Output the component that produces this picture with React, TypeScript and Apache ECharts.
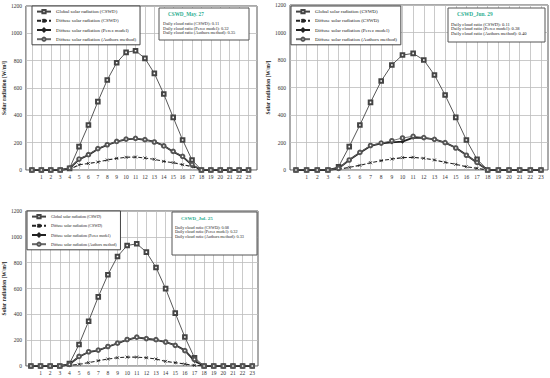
import React, { useEffect, useRef } from "react";
import * as echarts from "echarts";

const hours = Array.from({ length: 24 }, (_, i) => i);
const xTickLabels = [1, 2, 3, 4, 5, 6, 7, 8, 9, 10, 11, 12, 13, 14, 15, 16, 17, 18, 19, 20, 21, 22, 23];

const seriesNames = [
  "Global solar radiation (CSWD)",
  "Diffuse solar radiation (CSWD)",
  "Diffuse solar radiation (Perez model)",
  "Diffuse solar radiation (Authors method)",
];

// Panel 1: May 27
const may27Global = [0, 0, 0, 0, 12, 171, 329, 500, 659, 785, 861, 873, 817, 707, 556, 385, 220, 73, 0, 0, 0, 0, 0, 0];
const may27Cswd = [0, 0, 0, 0, 5, 38, 48, 58, 73, 85, 93, 95, 88, 78, 63, 54, 39, 24, 0, 0, 0, 0, 0, 0];
const may27Perez = [0, 0, 0, 0, 12, 78, 110, 154, 183, 207, 224, 229, 220, 207, 178, 134, 98, 37, 0, 0, 0, 0, 0, 0];
const may27Authors = [0, 0, 0, 0, 14, 80, 112, 156, 185, 209, 226, 231, 222, 205, 176, 136, 100, 40, 0, 0, 0, 0, 0, 0];

// Panel 2: Jun 29
const jun29Global = [0, 0, 0, 0, 24, 170, 327, 492, 647, 764, 836, 848, 800, 691, 545, 383, 218, 78, 0, 0, 0, 0, 0, 0];
const jun29Cswd = [0, 0, 0, 0, 5, 19, 34, 53, 68, 80, 90, 92, 85, 73, 56, 41, 24, 12, 0, 0, 0, 0, 0, 0];
const jun29Perez = [0, 0, 0, 0, 12, 73, 126, 175, 194, 201, 206, 235, 233, 223, 199, 162, 109, 53, 0, 0, 0, 0, 0, 0];
const jun29Authors = [0, 0, 0, 0, 12, 73, 128, 178, 196, 213, 233, 245, 236, 223, 199, 160, 107, 55, 0, 0, 0, 0, 0, 0];

// Panel 3: Jul 25
const jul25Global = [0, 0, 0, 0, 18, 167, 347, 535, 707, 848, 933, 946, 882, 763, 599, 409, 224, 64, 0, 0, 0, 0, 0, 0];
const jul25Cswd = [0, 0, 0, 0, 4, 13, 26, 41, 54, 64, 69, 69, 64, 54, 36, 26, 15, 5, 0, 0, 0, 0, 0, 0];
const jul25Perez = [0, 0, 0, 0, 13, 72, 108, 121, 149, 175, 203, 221, 211, 203, 185, 162, 121, 39, 0, 0, 0, 0, 0, 0];
const jul25Authors = [0, 0, 0, 0, 13, 74, 110, 123, 151, 177, 205, 223, 212, 204, 186, 160, 119, 51, 0, 0, 0, 0, 0, 0];

const panelTitles = ["CSWD_May. 27", "CSWD_Jun. 29", "CSWD_Jul. 25"];
const cloudCswd = ["0.11", "0.11", "0.08"];
const cloudPerez = ["0.32", "0.38", "0.32"];
const cloudAuthors = ["0.35", "0.40", "0.33"];

const FONT = "Liberation Serif";

const panels = [
  {
    data: [may27Global, may27Cswd, may27Perez, may27Authors],
    grid: { left: 25, top: 6, width: 232, height: 164 },
    xMin: -0.64, xMax: 23.9,
    legend: { left: 32, top: 6, fontSize: 4.9 },
    box: { x: 159, y: 8, w: 90, h: 32 },
    titleY: 14, lineY: 23.5, lineGap: 4.6, textX: 163, titleX: 168, fs: 4.4,
  },
  {
    data: [jun29Global, jun29Cswd, jun29Perez, jun29Authors],
    grid: { left: 290, top: 5, width: 258, height: 165 },
    xMin: -0.56, xMax: 23.66,
    legend: { left: 291, top: 6, fontSize: 5 },
    box: { x: 448, y: 8, w: 97, h: 34 },
    titleY: 14, lineY: 24, lineGap: 4.8, textX: 451, titleX: 457, fs: 4.6,
  },
  {
    data: [jul25Global, jul25Cswd, jul25Perez, jul25Authors],
    grid: { left: 25, top: 211, width: 233, height: 155 },
    xMin: -0.52, xMax: 23.6,
    legend: { left: 27, top: 211, fontSize: 4.0 },
    box: { x: 172, y: 212, w: 85, h: 43 },
    titleY: 218, lineY: 227, lineGap: 4.6, textX: 175, titleX: 181, fs: 4.2,
  },
];

const crossPath = "path://M0,0L10,10M10,0L0,10";

function seriesStyle(k: number) {
  if (k === 0)
    return {
      symbol: "emptyRect",
      symbolSize: 3.6,
      lineStyle: { color: "#444", width: 0.9 },
      itemStyle: { color: "#444", borderColor: "#444", borderWidth: 0.7 },
    };
  if (k === 1)
    return {
      symbol: crossPath,
      symbolSize: 3,
      lineStyle: { color: "#222", width: 1.1, type: [4, 2] },
      itemStyle: { color: "#222", borderColor: "#222", borderWidth: 0.8 },
    };
  if (k === 2)
    return {
      symbol: "diamond",
      symbolSize: 3.6,
      lineStyle: { color: "#222", width: 1.8 },
      itemStyle: { color: "#222", borderColor: "#222", borderWidth: 0.4 },
    };
  return {
    symbol: "emptyCircle",
    symbolSize: 3.6,
    lineStyle: { color: "#666", width: 0.9 },
    itemStyle: { color: "#555", borderColor: "#555", borderWidth: 0.7 },
  };
}

export default function App() {
  const ref = useRef<HTMLDivElement>(null);
  useEffect(() => {
    if (!ref.current) return;
    const chart = echarts.init(ref.current, undefined, { renderer: "svg" });
    const grids: any[] = [];
    const xAxes: any[] = [];
    const yAxes: any[] = [];
    const series: any[] = [];
    const legends: any[] = [];
    const graphics: any[] = [];
    panels.forEach((p, i) => {
      grids.push({ ...p.grid, show: true, borderColor: "#555", borderWidth: 1, backgroundColor: "#fff" });
      xAxes.push({
        type: "value",
        gridIndex: i,
        min: p.xMin,
        max: p.xMax,
        axisLine: { show: false },
        axisTick: { show: false, customValues: hours },
        axisLabel: {
          customValues: xTickLabels,
          formatter: (v: number) => String(v),
          fontFamily: FONT, fontSize: 5.5, color: "#333", margin: 4,
        },
        splitLine: { show: true, lineStyle: { color: "#bdbdbd", width: 0.8 } },
      });
      yAxes.push({
        type: "value",
        gridIndex: i,
        min: 0,
        max: 1200,
        interval: 200,
        name: "Solar radiation [W/m²]",
        nameLocation: "middle",
        nameRotate: 90,
        nameGap: 18,
        nameTextStyle: { fontFamily: FONT, fontSize: 5.5, fontWeight: "bold", color: "#222" },
        axisLine: { show: false },
        axisTick: { show: false },
        axisLabel: { formatter: (v: number) => String(v), fontFamily: FONT, fontSize: 5.5, color: "#333", margin: 4 },
        splitLine: { show: true, lineStyle: { color: "#bdbdbd", width: 0.8 } },
      });
      p.data.forEach((vals, k) => {
        series.push({
          type: "line",
          name: seriesNames[k],
          xAxisIndex: i,
          yAxisIndex: i,
          data: hours.map((h, j) => [h, vals[j]]),
          z: 2 + k,
          ...seriesStyle(k),
        });
      });
      legends.push({
        data: seriesNames,
        orient: "vertical",
        left: p.legend.left,
        top: p.legend.top,
        itemWidth: 14,
        itemHeight: 4,
        itemGap: 4,
        padding: [3, 4, 3, 4],
        borderColor: "#444",
        borderWidth: 1,
        backgroundColor: "#fff",
        textStyle: { fontFamily: FONT, fontSize: p.legend.fontSize, color: "#222" },
        selectedMode: false,
      });
      graphics.push({
        type: "rect",
        shape: { x: p.box.x, y: p.box.y, width: p.box.w, height: p.box.h },
        style: { fill: "#fff", stroke: "#555", lineWidth: 1 },
        z: 10,
      });
      graphics.push({
        type: "text",
        x: p.titleX,
        y: p.titleY,
        style: { text: panelTitles[i], font: `bold ${p.fs + 0.8}px ${FONT}`, fill: "#2aae8f", verticalAlign: "middle" },
        z: 11,
      });
      const lines = [
        `Daily cloud ratio (CSWD): ${cloudCswd[i]}`,
        `Daily cloud ratio (Perez model): ${cloudPerez[i]}`,
        `Daily cloud ratio (Authors method): ${cloudAuthors[i]}`,
      ];
      lines.forEach((t, m) => {
        graphics.push({
          type: "text",
          x: p.textX,
          y: p.lineY + m * p.lineGap,
          style: { text: t, font: `${p.fs}px ${FONT}`, fill: "#222", verticalAlign: "middle" },
          z: 11,
        });
      });
    });
    chart.setOption({
      animation: false,
      backgroundColor: "#fff",
      grid: grids,
      xAxis: xAxes,
      yAxis: yAxes,
      series,
      legend: legends,
      graphic: graphics,
    });
    return () => chart.dispose();
  }, []);
  return <div ref={ref} style={{ position: "fixed", left: 0, top: 0, width: 550, height: 378 }} />;
}
